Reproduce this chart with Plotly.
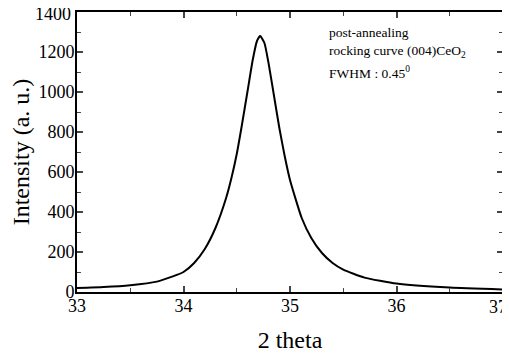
import plotly.graph_objects as go

two_theta = [33.0, 33.25, 33.5, 33.75, 33.9, 34.0, 34.1, 34.2, 34.3, 34.4, 34.45, 34.5, 34.55,
             34.6, 34.65, 34.69, 34.72, 34.76, 34.8, 34.85, 34.9, 34.95, 35.0, 35.11, 35.2,
             35.3, 35.4, 35.5, 35.7, 36.0, 36.5, 37.0]
intensity = [20, 25, 34, 52, 78, 100, 145, 215, 320, 470, 570, 690, 840,
             1000, 1160, 1255, 1280, 1245, 1140, 980, 820, 680, 560, 370, 270,
             195, 145, 112, 72, 42, 22, 12]

x_ticks = [33, 34, 35, 36, 37]
x_tick_labels = ["33", "34", "35", "36", "37"]
y_ticks = [0, 200, 400, 600, 800, 1000, 1200, 1400]
y_tick_labels = ["0", "200", "400", "600", "800", "1000", "1200", "1400"]

notes = ["post-annealing", "rocking curve (004)CeO<sub>2</sub>", "FWHM : 0.45<sup>0</sup>"]

font_family = "Liberation Serif, Times New Roman, serif"

# the page body has an 8px margin: shrink the figure so the plot lands where the reference has it
BODY = 8
W, H = 510 - BODY, 353 - BODY
PL, PR, PT, PB = 77, 503, 12, 292   # plot area in page pixels

fig = go.Figure()
fig.add_trace(go.Scatter(x=two_theta, y=intensity, mode="lines",
                         line=dict(color="black", width=2, shape="spline", smoothing=0.5),
                         showlegend=False, hoverinfo="skip"))

# edge labels (top y, right x) would be dropped by plotly, so they are drawn as annotations
shown_x = x_tick_labels[:-1] + [""]
shown_y = y_tick_labels[:-1] + [""]

fig.update_layout(
    width=W, height=H,
    margin=dict(l=PL - BODY, r=510 - PR, t=PT - BODY, b=353 - PB),
    paper_bgcolor="white", plot_bgcolor="white",
    font=dict(family=font_family, color="black"),
    xaxis=dict(range=[33, 37], tickvals=x_ticks, ticktext=shown_x, ticks="inside",
               ticklen=6, tickwidth=1.5,
               showline=True, linecolor="black", linewidth=2, mirror="allticks",
               showgrid=False, zeroline=False, automargin=False, ticklabelstandoff=-4,
               tickfont=dict(size=18, family=font_family, color="black"),
               minor=dict(dtick=0.5, ticks="inside", ticklen=4, tickwidth=1, showgrid=False),
               title=dict(text="2 theta", font=dict(size=24, family=font_family), standoff=20)),
    yaxis=dict(range=[0, 1400], tickvals=y_ticks, ticktext=shown_y, ticks="inside",
               ticklen=6, tickwidth=1.5,
               showline=True, linecolor="black", linewidth=2, mirror="allticks",
               showgrid=False, zeroline=False, automargin=False, ticklabelstandoff=-3,
               tickfont=dict(size=18, family=font_family, color="black"),
               minor=dict(dtick=100, ticks="inside", ticklen=4, tickwidth=1, showgrid=False),
               title=dict(text="Intensity (a. u.)", font=dict(size=24, family=font_family), standoff=9)),
)

fig.add_annotation(text=x_tick_labels[-1], xref="paper", yref="paper",
                   x=(508 - PL) / (PR - PL), y=0, xanchor="right", yanchor="top",
                   yshift=-4, showarrow=False, borderpad=0,
                   font=dict(size=18, family=font_family, color="black"))
fig.add_annotation(text=y_tick_labels[-1], xref="paper", yref="paper",
                   x=(72 - PL) / (PR - PL), y=1, xanchor="right", yanchor="middle",
                   yshift=-2, showarrow=False, borderpad=0,
                   font=dict(size=18, family=font_family, color="black"))

note_y = [33, 52, 72]
for t, yy in zip(notes, note_y):
    fig.add_annotation(text=t, xref="paper", yref="paper",
                       x=(327 - PL) / (PR - PL), y=1 - (yy - PT) / (PB - PT),
                       xanchor="left", yanchor="middle", showarrow=False,
                       font=dict(size=13.5, family=font_family, color="black"))

fig.write_html("out.html")
